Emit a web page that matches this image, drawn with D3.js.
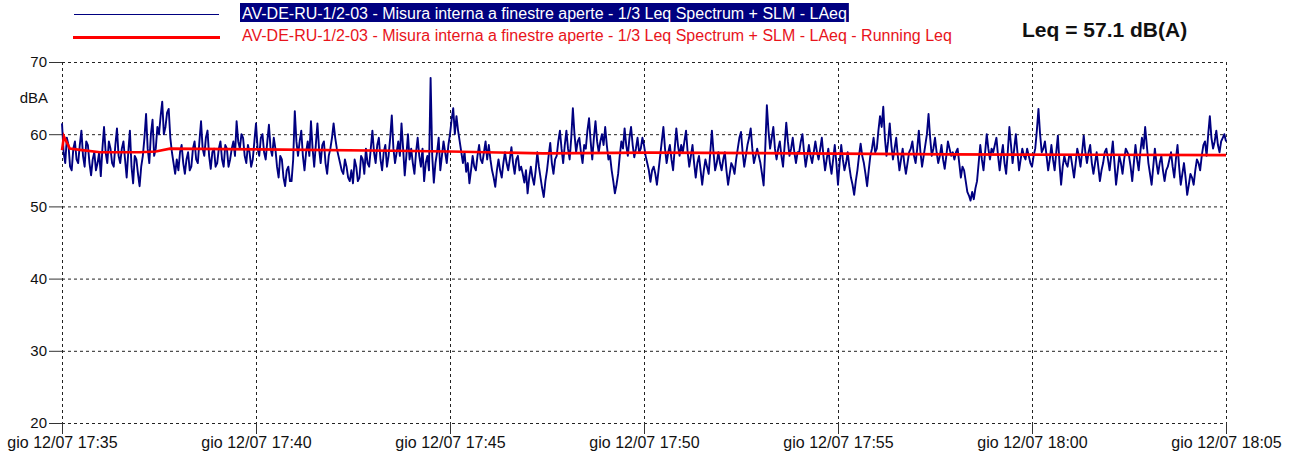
<!DOCTYPE html>
<html>
<head>
<meta charset="utf-8">
<script src="https://cdn.jsdelivr.net/npm/d3@7"></script>
<style>
  body { margin: 0; background: #fff; }
  svg { display: block; font-family: Arial, "Liberation Sans", sans-serif; }
</style>
</head>
<body>
<svg id="svg" width="1295" height="459"></svg>
<script>
var startTime = new Date(2018, 6, 12, 17, 35, 0);
var endTime = new Date(2018, 6, 12, 18, 5, 0);
var stepSec = 2.5;

// LAeq, dBA, one value every 2.5 s (30 s per row)
var laeq = [
  61.5, 57.5, 56, 59.5, 58.5, 55.5, 55, 58, 59, 56.5, 56, 58.5,
  60.5, 57, 55.5, 59, 58.5, 56, 54.3, 56.5, 57.5, 55, 56, 57.5,
  54.2, 58, 61, 57.5, 56, 59, 58, 56, 55.5, 58.5, 60.8, 57,
  56, 58, 59, 56.5, 54, 57.5, 60.5, 55.5, 53.2, 57, 56.5, 54.5,
  52.8, 55.5, 57, 59.5, 62.8, 58, 56, 60, 62, 57, 58, 61,
  60, 62.5, 64.5, 60, 61, 63, 63.5, 59.5, 57.5, 56, 54.5, 56.5,
  55, 57.5, 58.5, 56, 54.5, 56.5, 57.5, 55, 55.5, 58, 59, 56.5,
  56, 59, 61.8, 58, 57, 59.5, 60.5, 57, 55.2, 57.5, 58, 55.5,
  56, 58, 59, 56.5, 55.5, 58.5, 58, 55.5, 56.5, 58, 59, 57,
  61.8, 59, 58, 60, 59.5, 57, 56, 58.5, 57.5, 55.5, 56.5, 59,
  61.5, 58, 57, 59.5, 60, 57.5, 56.5, 59, 61.3, 58, 57, 59.5,
  58, 55.5, 54, 57, 56.5, 54, 52.8, 55, 55.5, 53.5, 53.5, 56.5,
  63.2, 59, 57, 59, 60.5, 57, 55, 57.5, 59, 57, 61.8, 58,
  55.5, 58.5, 61.5, 58, 56, 58.5, 59, 56, 54.5, 57, 58, 59.5,
  61.5, 59.5, 58, 57, 56, 55, 54.5, 56.5, 55.5, 54, 53.5, 55,
  53.2, 56.5, 55.5, 53.5, 54, 57, 56.5, 54.5, 58, 56, 55.5, 58,
  60.5, 57.5, 56, 58.5, 59.5, 56.5, 55, 57.5, 58.5, 55.5, 57, 59.5,
  62.6, 58, 56, 57.5, 59, 57, 61.5, 58, 54.3, 57, 60, 56.5,
  58, 56, 54.5, 57.5, 59.5, 57, 55.5, 58, 53.5, 56, 57, 55,
  67.8, 57, 53.3, 56, 57.5, 59.5, 55, 57, 59, 57.5, 56, 58.5,
  60, 62, 63.6, 60, 62.5, 60.5, 59, 57.5, 56, 57.5, 54.8, 56,
  53.2, 55, 57, 55.5, 55, 57, 58.5, 56.5, 56, 57.5, 59, 56.5,
  58.5, 56.5, 55, 54, 52.7, 55, 56.5, 55, 54, 56, 57.5, 56,
  55, 56.5, 58.2, 56, 54.5, 56.5, 57, 55, 55.5, 54.5, 53.3, 55,
  51.8, 54, 55.5, 54, 53, 55, 57.5, 55.5, 54, 52.5, 51.3, 53.5,
  55, 57, 58.8, 56, 54.5, 56.5, 57, 59, 60.5, 58, 56, 58.5,
  60.5, 58, 56.5, 59.5, 63.6, 60, 57.5, 59, 59.5, 57.5, 56, 58.5,
  58, 60.5, 62.2, 59, 56.5, 59.5, 61.8, 59, 57.5, 59, 60, 58.5,
  61, 58.5, 56.5, 57, 55, 53.5, 51.8, 53, 54.5, 57, 59, 58,
  60.8, 58.5, 57, 59.5, 61, 58.5, 56.8, 58, 59.5, 57.5, 58, 59.5,
  58.5, 57, 56, 55, 53.4, 55, 55.5, 54.5, 53, 55, 57, 59,
  61, 58, 56, 57.5, 58.5, 56.5, 55, 58, 60.8, 58.5, 57, 58.5,
  57.5, 59, 60.5, 57.5, 55.5, 57, 58.5, 56, 54, 56, 57, 55,
  53, 55, 56.5, 55.5, 54.5, 57.5, 60.5, 57.5, 55, 56, 57.5, 56,
  55, 56.5, 57.5, 55, 53, 54.5, 56, 55.5, 54.5, 56.5, 58, 59.5,
  60.3, 57.5, 55.5, 57, 58.5, 59.5, 60.8, 58, 56, 57, 58, 57,
  56, 54.5, 52.9, 58, 64, 60.5, 58, 59.5, 61, 58, 56.5, 58,
  59, 57, 55.5, 58.5, 61.6, 59, 57, 58, 59.5, 57.5, 56, 57.5,
  57.5, 59, 60, 57.5, 55.5, 57, 58.5, 57, 56, 57.5, 59, 57.5,
  56.5, 58, 59.5, 57, 55, 56.5, 58, 56, 54.5, 56.5, 58.5, 56,
  53, 56, 58.5, 56.5, 55, 56, 57.5, 55.5, 54, 53, 51.6, 53.5,
  55, 57, 58.7, 57, 56, 54.5, 52.8, 55, 57, 58, 59.5, 57.5,
  58, 60.5, 62.5, 61, 63.8, 59.5, 57, 59, 61.5, 58.5, 56.5, 58,
  59.5, 57, 55, 56.5, 58, 56, 54.5, 56, 57.5, 58, 59, 57,
  56, 58, 60.5, 57.5, 55.5, 57, 58.5, 60, 62.8, 59.5, 57, 58,
  59.5, 57.5, 56, 57, 58.5, 56.5, 55.2, 57, 59, 58, 57, 57.5,
  56.5, 57.5, 58, 56, 54, 55.5, 55, 53.5, 52, 51.5, 50.8, 52,
  51, 52.5, 53.5, 56, 58.5, 56.5, 55, 57.5, 60, 58, 56.5, 58,
  57.5, 58.5, 59.5, 57, 55, 57, 58.5, 56, 54.5, 57.5, 61, 58.5,
  56, 58, 60, 57.5, 55, 56.5, 58, 57, 56.5, 58, 57, 56,
  55.5, 57, 58, 60.5, 63.5, 60, 57.5, 58, 59, 57, 55, 56.5,
  58.5, 56.5, 55, 57.5, 59.8, 56, 53, 55.5, 57, 56, 55.5, 57,
  57, 55.5, 54, 56, 58, 57, 55.5, 57.5, 59.8, 57.5, 56, 57.5,
  58.5, 56, 54.5, 56, 57.5, 55.5, 53.5, 55, 56, 57.5, 58, 56.5,
  55, 57, 59, 56, 53, 55, 57, 56, 54.5, 56.5, 58, 57.5,
  57, 55.5, 53.5, 56, 58.5, 56.5, 55, 57.5, 59.5, 58, 61, 58.5,
  56, 54.5, 53, 55.5, 58, 56, 54.5, 56, 57, 55, 53.5, 55,
  55.5, 56.5, 57.5, 55.5, 54, 56.5, 58.5, 55.5, 53, 54.5, 56, 54,
  51.6, 53, 54.5, 54, 53, 55, 56.5, 56, 55, 57, 58.5, 59,
  57, 60, 62.5, 59.5, 58, 59, 60.5, 58.5, 57.5, 59, 59.5, 60,
  59
];

// running Leq, read at these seconds from the start
var runSec = [0, 3, 12, 31, 59, 120, 145, 167, 306, 512, 600, 744, 909, 1141, 1373, 1605, 1800];
var runLeq = [57.8, 59.7, 58.0, 57.8, 57.5, 57.5, 57.6, 58.0, 57.9, 57.7, 57.6, 57.35, 57.45, 57.35, 57.2, 57.15, 57.1];

var yTicks = [20, 30, 40, 50, 60, 70];
var legendNames = [
  "AV-DE-RU-1/2-03 - Misura interna a finestre aperte - 1/3 Leq Spectrum + SLM - LAeq",
  "AV-DE-RU-1/2-03 - Misura interna a finestre aperte - 1/3 Leq Spectrum + SLM - LAeq - Running Leq"
];
var leqLabel = "Leq = 57.1 dB(A)";

var svg = d3.select('#svg');
var margin = { top: 62, right: 69, bottom: 36, left: 62 };
var width = 1295, height = 459;
var innerW = width - margin.left - margin.right;
var innerH = height - margin.top - margin.bottom;

var itLocale = d3.timeFormatLocale({
  dateTime: "%A %e %B %Y, %X", date: "%d/%m/%Y", time: "%H:%M:%S",
  periods: ["AM", "PM"],
  days: ["domenica", "lunedì", "martedì", "mercoledì", "giovedì", "venerdì", "sabato"],
  shortDays: ["dom", "lun", "mar", "mer", "gio", "ven", "sab"],
  months: ["gennaio", "febbraio", "marzo", "aprile", "maggio", "giugno", "luglio", "agosto", "settembre", "ottobre", "novembre", "dicembre"],
  shortMonths: ["gen", "feb", "mar", "apr", "mag", "giu", "lug", "ago", "set", "ott", "nov", "dic"]
});
var fmt = itLocale.format("%a %d/%m %H:%M");

var x = d3.scaleTime().domain([startTime, endTime]).range([0, innerW]);
var y = d3.scaleLinear().domain([20, 70]).range([innerH, 0]);
var xTicks = d3.timeMinute.every(5).range(startTime, d3.timeSecond.offset(endTime, 1));

var g = svg.append('g').attr('transform', 'translate(' + margin.left + ',' + margin.top + ')');

// dashed grid (also acts as the frame)
g.selectAll('.hgrid').data(yTicks).enter().append('line')
  .attr('x1', 0).attr('x2', innerW)
  .attr('y1', d => y(d) + 0.5).attr('y2', d => y(d) + 0.5)
  .attr('stroke', '#222').attr('stroke-width', 1).attr('stroke-dasharray', '3,3');
g.selectAll('.vgrid').data(xTicks).enter().append('line')
  .attr('x1', d => Math.round(x(d)) + 0.5).attr('x2', d => Math.round(x(d)) + 0.5)
  .attr('y1', 0).attr('y2', innerH)
  .attr('stroke', '#222').attr('stroke-width', 1).attr('stroke-dasharray', '3,3');

// axes: only ticks and labels
var yAxis = g.append('g')
  .call(d3.axisLeft(y).tickValues(yTicks).tickSize(13).tickPadding(2));
var xAxis = g.append('g').attr('transform', 'translate(0,' + innerH + ')')
  .call(d3.axisBottom(x).tickValues(xTicks).tickFormat(fmt).tickSize(11).tickPadding(3));
[yAxis, xAxis].forEach(function(a) {
  a.select('.domain').remove();
  a.selectAll('line').attr('stroke', '#333');
  a.selectAll('text').attr('fill', '#111').style('font-family', 'Arial, "Liberation Sans", sans-serif');
});
yAxis.selectAll('text').style('font-size', '15px');
xAxis.selectAll('text').style('font-size', '16px');

g.append('text').attr('x', -14).attr('y', y(65) + 5)
  .attr('text-anchor', 'end').style('font-size', '15px').attr('fill', '#111').text('dBA');

// LAeq series
var line = d3.line()
  .x((d, i) => x(new Date(startTime.getTime() + i * stepSec * 1000)))
  .y(d => y(d));
g.append('path').datum(laeq)
  .attr('d', line)
  .attr('fill', 'none').attr('stroke', '#000080').attr('stroke-width', 1.9)
  .attr('stroke-linejoin', 'round');

// Running Leq
var runLine = d3.line()
  .x((d, i) => x(d3.timeSecond.offset(startTime, runSec[i])))
  .y(d => y(d));
g.append('path').datum(runLeq)
  .attr('d', runLine)
  .attr('fill', 'none').attr('stroke', '#ff0000').attr('stroke-width', 2.6);

// legend
svg.append('line').attr('x1', 74).attr('x2', 219).attr('y1', 14.5).attr('y2', 14.5)
  .attr('stroke', '#000080').attr('stroke-width', 1);
svg.append('line').attr('x1', 73).attr('x2', 220).attr('y1', 37.5).attr('y2', 37.5)
  .attr('stroke', '#ff0000').attr('stroke-width', 3);

var hl = svg.append('rect').attr('x', 240).attr('y', 3).attr('height', 19)
  .attr('fill', '#000080');
var t1 = svg.append('text').attr('x', 242).attr('y', 18.5)
  .style('font-size', '16px').attr('fill', '#fff').text(legendNames[0]);
hl.attr('width', t1.node().getComputedTextLength() + 4);
svg.append('text').attr('x', 242).attr('y', 41)
  .style('font-size', '16px').attr('fill', '#e8141b').text(legendNames[1]);

svg.append('text').attr('x', 1022).attr('y', 37)
  .style('font-size', '21px').style('font-weight', 'bold').attr('fill', '#111').text(leqLabel);
</script>
</body>
</html>
